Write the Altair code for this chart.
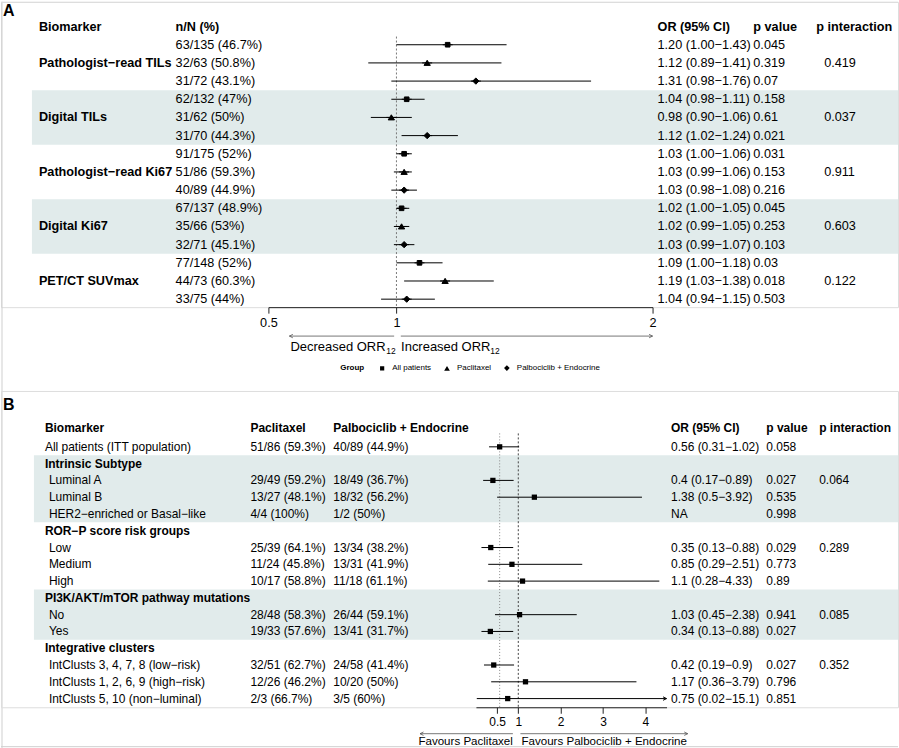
import altair as alt
import pandas as pd

FONT = "Liberation Sans"
M = "\u2212"

# ---------------- Panel A data ----------------
a_groups = [f"Pathologist{M}read TILs", "Digital TILs", f"Pathologist{M}read Ki67",
            "Digital Ki67", "PET/CT SUVmax"]
a_arms = ["All patients", "Paclitaxel", "Palbociclib + Endocrine"]
a_nN = ["63/135 (46.7%)", "32/63 (50.8%)", "31/72 (43.1%)",
        "62/132 (47%)", "31/62 (50%)", "31/70 (44.3%)",
        "91/175 (52%)", "51/86 (59.3%)", "40/89 (44.9%)",
        "67/137 (48.9%)", "35/66 (53%)", "32/71 (45.1%)",
        "77/148 (52%)", "44/73 (60.3%)", "33/75 (44%)"]
a_or = [1.20, 1.12, 1.31, 1.04, 0.98, 1.12, 1.03, 1.03, 1.03, 1.02, 1.02, 1.03, 1.09, 1.19, 1.04]
a_lo = [1.00, 0.89, 0.98, 0.98, 0.90, 1.02, 1.00, 0.99, 0.98, 1.00, 0.99, 0.99, 1.00, 1.03, 0.94]
a_hi = [1.43, 1.41, 1.76, 1.11, 1.06, 1.24, 1.06, 1.06, 1.08, 1.05, 1.05, 1.07, 1.18, 1.38, 1.15]
a_p = ["0.045", "0.319", "0.07", "0.158", "0.61", "0.021", "0.031", "0.153", "0.216",
       "0.045", "0.253", "0.103", "0.03", "0.018", "0.503"]
a_pint = ["0.419", "0.037", "0.911", "0.603", "0.122"]
a_ticks = [0.5, 1, 2]
a_ref = 1

# ---------------- Panel B data ----------------
b_labels = ["All patients (ITT population)", "Intrinsic Subtype", "Luminal A", "Luminal B",
            f"HER2{M}enriched or Basal{M}like", f"ROR{M}P score risk groups", "Low", "Medium", "High",
            "PI3K/AKT/mTOR pathway mutations", "No", "Yes", "Integrative clusters",
            f"IntClusts 3, 4, 7, 8 (low{M}risk)", f"IntClusts 1, 2, 6, 9 (high{M}risk)",
            f"IntClusts 5, 10 (non{M}luminal)"]
b_kind = ["overall", "section", "sub", "sub", "sub", "section", "sub", "sub", "sub",
          "section", "sub", "sub", "section", "sub", "sub", "sub"]
b_pac = ["51/86 (59.3%)", "", "29/49 (59.2%)", "13/27 (48.1%)", "4/4 (100%)", "",
         "25/39 (64.1%)", "11/24 (45.8%)", "10/17 (58.8%)", "", "28/48 (58.3%)",
         "19/33 (57.6%)", "", "32/51 (62.7%)", "12/26 (46.2%)", "2/3 (66.7%)"]
b_pal = ["40/89 (44.9%)", "", "18/49 (36.7%)", "18/32 (56.2%)", "1/2 (50%)", "",
         "13/34 (38.2%)", "13/31 (41.9%)", "11/18 (61.1%)", "", "26/44 (59.1%)",
         "13/41 (31.7%)", "", "24/58 (41.4%)", "10/20 (50%)", "3/5 (60%)"]
b_or = [0.56, None, 0.4, 1.38, None, None, 0.35, 0.85, 1.1, None, 1.03, 0.34, None, 0.42, 1.17, 0.75]
b_lo = [0.31, None, 0.17, 0.5, None, None, 0.13, 0.29, 0.28, None, 0.45, 0.13, None, 0.19, 0.36, 0.02]
b_hi = [1.02, None, 0.89, 3.92, None, None, 0.88, 2.51, 4.33, None, 2.38, 0.88, None, 0.9, 3.79, 15.1]
b_p = ["0.058", "", "0.027", "0.535", "0.998", "", "0.029", "0.773", "0.89", "",
       "0.941", "0.027", "", "0.027", "0.796", "0.851"]
b_pint = ["", "", "0.064", "", "", "", "0.289", "", "", "", "0.085", "", "", "0.352", "", ""]
b_na_rows = [4]
b_ticks = [0.5, 1, 2, 3, 4]
b_xmax = 4.5

BAND = "#e1ebeb"

# ---------------- helpers ----------------
def text_layer(df, field, x, ys, size, bold=False, align="left", dx=0, dy=0):
    return alt.Chart(df).mark_text(
        align=align, baseline="middle", font=FONT, fontSize=size,
        fontWeight="bold" if bold else "normal", color="black", dx=dx, dy=dy
    ).encode(x=alt.value(x), y=alt.Y("row:Q", scale=ys, axis=None),
             text=alt.Text(f"{field}:N"))


def axis_def(ticks, size):
    return alt.Axis(values=ticks, format="~g", title=None, grid=False, labelFont=FONT,
                    labelFontSize=size, labelColor="black", tickColor="#222",
                    domainColor="#222", tickSize=6, labelPadding=3, labelFlush=False,
                    domainWidth=1, tickWidth=1)


SHAPES = ["M-1.5,0H1.5M-0.7,-0.7H0.7V0.7H-0.7Z",
          "M-1.5,0H1.5M0,-0.8L0.95,0.75H-0.95Z",
          "M-1.5,0H1.5M0,-0.95L0.95,0L0,0.95L-0.95,0Z"]
ARROW_R = "M-2,-1L0,0L-2,1"
ARROW_L = "M2,-1L0,0L2,1"

# ================= Panel A =================
rowsA = list(range(len(a_nN)))
dfA = pd.DataFrame({
    "row": rowsA,
    "arm": [a_arms[i % 3] for i in rowsA],
    "nN": a_nN, "or": a_or, "lo": a_lo, "hi": a_hi,
    "orci": [f"{o:.2f} ({l:.2f}{M}{h:.2f})" for o, l, h in zip(a_or, a_lo, a_hi)],
    "p": a_p,
})
grpA = pd.DataFrame({"row": [3 * i + 1 for i in range(len(a_groups))],
                     "label": a_groups, "pint": a_pint})
hdrA = pd.DataFrame({"row": [-1], "h1": ["Biomarker"], "h2": ["n/N (%)"],
                     "h3": ["OR (95% CI)"], "h4": ["p value"], "h5": ["p interaction"]})
bandA = pd.DataFrame({"r0": [3 * g - 0.5 for g in (1, 3)], "r1": [3 * g + 2.5 for g in (1, 3)]})

ysA = alt.Scale(domain=[0, 14], range=[43, 298], nice=False, zero=False)
xsA = alt.Scale(domain=[0.5, 2], range=[268, 653], nice=False, zero=False)
axA = axis_def(a_ticks, 12.7)


def xA(field):
    return alt.X(f"{field}:Q", scale=xsA, axis=axA)


bandsA = alt.Chart(bandA).mark_rect(color=BAND).encode(
    x=alt.value(31), x2=alt.value(899),
    y=alt.Y("r0:Q", scale=ysA, axis=None), y2="r1:Q")

refA = alt.Chart(pd.DataFrame({"v": [a_ref], "r0": [-0.45], "r1": [14.44]})).mark_rule(
    color="#777", strokeDash=[2, 2], strokeWidth=1).encode(
    x=xA("v"), y=alt.Y("r0:Q", scale=ysA, axis=None), y2="r1:Q")

ciA = alt.Chart(dfA).mark_rule(color="black", strokeWidth=1).encode(
    x=xA("lo"), x2="hi:Q", y=alt.Y("row:Q", scale=ysA, axis=None))

legA = alt.Legend(title="Group", orient="none", legendX=340, legendY=363,
                  direction="horizontal", titleOrient="left", titleFont=FONT,
                  titleFontSize=8, titleFontWeight="bold", titleColor="black",
                  titlePadding=14, labelFont=FONT, labelFontSize=8, labelColor="black",
                  labelOffset=6, columnPadding=8, symbolSize=36,
                  symbolFillColor="black", symbolStrokeColor="black", symbolStrokeWidth=1)

ptsA = alt.Chart(dfA).mark_point(filled=False, fill="black", fillOpacity=1, color="black",
                                 stroke="black", strokeWidth=1, opacity=1, size=44).encode(
    x=xA("or"), y=alt.Y("row:Q", scale=ysA, axis=None),
    shape=alt.Shape("arm:N", scale=alt.Scale(domain=a_arms, range=SHAPES), legend=legA))

arrA = pd.DataFrame({"x0": [0.991, 1.017], "x1": [0.582, 2.0]})
arrowsA = alt.Chart(arrA).mark_rule(color="#555", strokeWidth=0.8).encode(
    x=xA("x0"), x2="x1:Q", y=alt.value(335))
headLA = alt.Chart(pd.DataFrame({"x": [0.582]})).mark_point(
    shape=ARROW_L, size=12, color="#555", strokeWidth=0.8, filled=False, opacity=1).encode(
    x=xA("x"), y=alt.value(335))
headRA = alt.Chart(pd.DataFrame({"x": [2.0]})).mark_point(
    shape=ARROW_R, size=12, color="#555", strokeWidth=0.8, filled=False, opacity=1).encode(
    x=xA("x"), y=alt.value(335))

annA = pd.DataFrame({"x": [0.586, 1.018], "t": ["Decreased ORR", "Increased ORR"]})
annTxtA = alt.Chart(annA).mark_text(align="left", baseline="middle", font=FONT,
                                    fontSize=13, color="black").encode(
    x=xA("x"), y=alt.value(346), text="t:N")
subA1 = alt.Chart(pd.DataFrame({"x": [0.586], "t": ["12"]})).mark_text(
    align="left", baseline="middle", font=FONT, fontSize=8.5, color="black", dx=96, dy=3.5).encode(
    x=xA("x"), y=alt.value(346), text="t:N")
subA2 = alt.Chart(pd.DataFrame({"x": [1.018], "t": ["12"]})).mark_text(
    align="left", baseline="middle", font=FONT, fontSize=8.5, color="black", dx=89.5, dy=3.5).encode(
    x=xA("x"), y=alt.value(346), text="t:N")

labelA = alt.Chart(pd.DataFrame({"t": ["A"]})).mark_text(
    align="left", baseline="middle", font=FONT, fontSize=16, fontWeight="bold",
    color="black").encode(x=alt.value(2), y=alt.value(9), text="t:N")

frameL = alt.Chart(pd.DataFrame({"k": ["l"]})).mark_rule(color="#cfcfcf", strokeWidth=1).encode(
    x=alt.value(1), y=alt.value(0), y2=alt.value(748))
frameT = alt.Chart(pd.DataFrame({"k": ["t"]})).mark_rule(color="#dcdcdc", strokeWidth=1).encode(
    x=alt.value(0), x2=alt.value(899), y=alt.value(0.5))
frameB = alt.Chart(pd.DataFrame({"k": ["b"]})).mark_rule(color="#cfcfcf", strokeWidth=1).encode(
    x=alt.value(0), x2=alt.value(899), y=alt.value(746.5))

panelA = alt.layer(
    bandsA, frameL, frameT, frameB, refA, ciA, ptsA,
    text_layer(hdrA, "h1", 38, ysA, 12.7, bold=True),
    text_layer(hdrA, "h2", 175, ysA, 12.7, bold=True),
    text_layer(hdrA, "h3", 658, ysA, 12.7, bold=True),
    text_layer(hdrA, "h4", 754, ysA, 12.7, bold=True),
    text_layer(hdrA, "h5", 817, ysA, 12.7, bold=True),
    text_layer(grpA, "label", 38, ysA, 12.7, bold=True),
    text_layer(dfA, "nN", 175, ysA, 12.7),
    text_layer(dfA, "orci", 658, ysA, 12.7),
    text_layer(dfA, "p", 754, ysA, 12.7),
    text_layer(grpA, "pint", 825, ysA, 12.7),
    arrowsA, headLA, headRA, annTxtA, subA1, subA2, labelA,
).properties(width=899, height=306)

# ================= Panel B =================
def ci_text(o, l, h, i):
    if i in b_na_rows:
        return "NA"
    if o is None:
        return ""
    return f"{o:g} ({l:g}{M}{h:g})"


dfB = pd.DataFrame({
    "row": list(range(len(b_labels))), "label": b_labels, "kind": b_kind,
    "pac": b_pac, "pal": b_pal, "or": b_or, "lo": b_lo, "hi": b_hi,
    "orci": [ci_text(o, l, h, i) for i, (o, l, h) in enumerate(zip(b_or, b_lo, b_hi))],
    "p": b_p, "pint": b_pint,
})
forestB = dfB.dropna(subset=["or"]).copy()
forestB["hic"] = forestB["hi"].clip(upper=b_xmax)
clipB = forestB[forestB["hi"] > b_xmax][["row"]].assign(x=b_xmax)

hdrB = pd.DataFrame({"row": [-1.1], "h1": ["Biomarker"], "h2": ["Paclitaxel"],
                     "h3": ["Palbociclib + Endocrine"], "h4": ["OR (95% CI)"],
                     "h5": ["p value"], "h6": ["p interaction"]})
sections = [i for i, k in enumerate(b_kind) if k == "section"]
bandB = pd.DataFrame({"r0": [sections[0] - 0.5, sections[2] - 0.5],
                      "r1": [sections[1] - 0.5, sections[3] - 0.5]})

ysB = alt.Scale(domain=[0, 15], range=[56, 308.3], nice=False, zero=False)
xsB = alt.Scale(domain=[0, b_xmax], range=[476, 667], nice=False, zero=False)
axB = axis_def(b_ticks, 12)


def xB(field):
    return alt.X(f"{field}:Q", scale=xsB, axis=axB)


bandsB = alt.Chart(bandB).mark_rect(color=BAND).encode(
    x=alt.value(33), x2=alt.value(899),
    y=alt.Y("r0:Q", scale=ysB, axis=None), y2="r1:Q")

refB1 = alt.Chart(pd.DataFrame({"v": [b_or[0]], "r0": [-0.8], "r1": [15.52]})).mark_rule(
    color="#888", strokeDash=[1, 2], strokeWidth=1).encode(
    x=xB("v"), y=alt.Y("r0:Q", scale=ysB, axis=None), y2="r1:Q")
refB2 = alt.Chart(pd.DataFrame({"v": [1], "r0": [-0.8], "r1": [15.52]})).mark_rule(
    color="#444", strokeDash=[2, 2], strokeWidth=1).encode(
    x=xB("v"), y=alt.Y("r0:Q", scale=ysB, axis=None), y2="r1:Q")

ciB = alt.Chart(forestB).mark_rule(color="black", strokeWidth=1).encode(
    x=xB("lo"), x2="hic:Q", y=alt.Y("row:Q", scale=ysB, axis=None))
ptsB = alt.Chart(forestB).mark_point(shape="square", filled=True, color="black",
                                     opacity=1, size=28).encode(
    x=xB("or"), y=alt.Y("row:Q", scale=ysB, axis=None))
clipHead = alt.Chart(clipB).mark_point(shape=ARROW_R, size=12, color="black",
                                       strokeWidth=1, filled=False, opacity=1).encode(
    x=xB("x"), y=alt.Y("row:Q", scale=ysB, axis=None))

arrB = pd.DataFrame({"x0": [0.872, 1.05], "x1": [-1.32, 5.0]})
arrowsB = alt.Chart(arrB).mark_rule(color="#555", strokeWidth=0.8).encode(
    x=xB("x0"), x2="x1:Q", y=alt.value(343.5))
headLB = alt.Chart(pd.DataFrame({"x": [-1.32]})).mark_point(
    shape=ARROW_L, size=12, color="#555", strokeWidth=0.8, filled=False, opacity=1).encode(
    x=xB("x"), y=alt.value(343.5))
headRB = alt.Chart(pd.DataFrame({"x": [5.0]})).mark_point(
    shape=ARROW_R, size=12, color="#555", strokeWidth=0.8, filled=False, opacity=1).encode(
    x=xB("x"), y=alt.value(343.5))
favL = alt.Chart(pd.DataFrame({"x": [0.872], "t": ["Favours Paclitaxel"]})).mark_text(
    align="right", baseline="middle", font=FONT, fontSize=11.6, color="black").encode(
    x=xB("x"), y=alt.value(352), text="t:N")
favR = alt.Chart(pd.DataFrame({"x": [1.075], "t": ["Favours Palbociclib + Endocrine"]})).mark_text(
    align="left", baseline="middle", font=FONT, fontSize=11.6, color="black").encode(
    x=xB("x"), y=alt.value(352), text="t:N")

labelB = alt.Chart(pd.DataFrame({"t": ["B"]})).mark_text(
    align="left", baseline="middle", font=FONT, fontSize=16, fontWeight="bold",
    color="black").encode(x=alt.value(2), y=alt.value(14), text="t:N")

secB = dfB[dfB["kind"] == "section"]
ovB = dfB[dfB["kind"] == "overall"]
subB = dfB[dfB["kind"] == "sub"]

panelB = alt.layer(
    bandsB, refB1, refB2, ciB, ptsB, clipHead,
    text_layer(hdrB, "h1", 44, ysB, 12, bold=True),
    text_layer(hdrB, "h2", 250, ysB, 12, bold=True),
    text_layer(hdrB, "h3", 333, ysB, 12, bold=True),
    text_layer(hdrB, "h4", 671.5, ysB, 12, bold=True),
    text_layer(hdrB, "h5", 767, ysB, 12, bold=True),
    text_layer(hdrB, "h6", 820, ysB, 12, bold=True),
    text_layer(secB, "label", 44, ysB, 12, bold=True),
    text_layer(ovB, "label", 44, ysB, 12),
    text_layer(subB, "label", 48, ysB, 12),
    text_layer(dfB, "pac", 250, ysB, 12),
    text_layer(dfB, "pal", 333, ysB, 12),
    text_layer(dfB, "orci", 671.5, ysB, 12),
    text_layer(dfB, "p", 767, ysB, 12),
    text_layer(dfB, "pint", 820, ysB, 12),
    arrowsB, headLB, headRB, favL, favR, labelB,
).properties(width=899, height=317)

chart = alt.vconcat(panelA, panelB, spacing=84, bounds="flush", padding=0).configure_view(
    stroke=None).configure(font=FONT, background="white")

chart.save("out.html", embed_options={"renderer": "svg", "actions": False})
